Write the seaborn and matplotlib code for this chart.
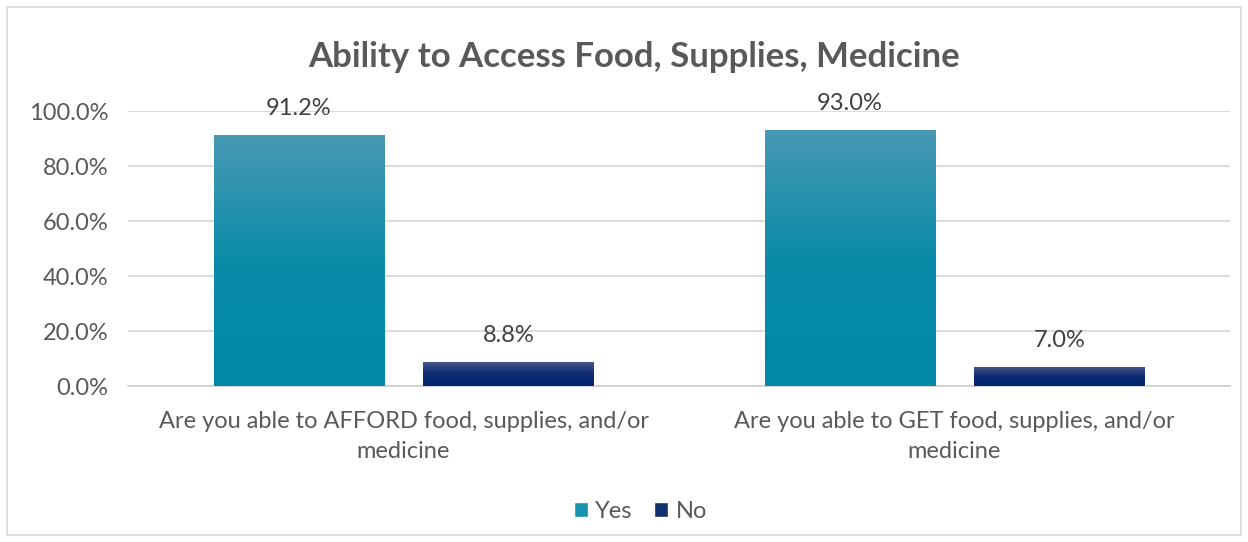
import matplotlib
matplotlib.use("Agg")
import matplotlib.pyplot as plt
import seaborn as sns
import pandas as pd
import numpy as np
from matplotlib.colors import LinearSegmentedColormap
from matplotlib.patches import Rectangle

categories = ["Are you able to AFFORD food, supplies, and/or\nmedicine",
              "Are you able to GET food, supplies, and/or\nmedicine"]
yes_values = [0.912, 0.930]
no_values = [0.088, 0.070]
series = ["Yes", "No"]
title = "Ability to Access Food, Supplies, Medicine"

df = pd.DataFrame({
    "question": categories * 2,
    "answer": ["Yes"] * len(categories) + ["No"] * len(categories),
    "value": yes_values + no_values,
})

sns.set_theme(style="white")
plt.rcParams['font.family'] = ['Lato', 'DejaVu Sans']

fig = plt.figure(figsize=(12.48, 5.42), dpi=100)
ax = fig.add_axes([0.1026, 0.2878, 0.8830, 0.5074])

colors = {"Yes": "#1793b0", "No": "#13306f"}
sns.barplot(data=df, x="question", y="value", hue="answer", hue_order=series,
            palette=colors, width=0.762, gap=0.19, ax=ax, legend=True,
            saturation=1, zorder=3)

ax.set_ylim(0, 1.0)
ax.set_yticks(np.arange(0, 1.01, 0.2))
ax.set_yticklabels([f"{v*100:.1f}%" for v in np.arange(0, 1.01, 0.2)],
                   fontsize=17, color="#595959")
ax.tick_params(axis="y", length=0, pad=14)
ax.tick_params(axis="x", length=0, pad=18, labelsize=17, labelcolor="#595959")
for lab in ax.get_xticklabels():
    lab.set_linespacing(1.55)
ax.set_xlabel("")
ax.set_ylabel("")
ax.grid(axis="y", color="#d9d9d9", linewidth=1.3, zorder=0)
ax.set_axisbelow(True)
for s in ["top", "right", "left"]:
    ax.spines[s].set_visible(False)
ax.spines["bottom"].set_color("#d0d0d0")
ax.spines["bottom"].set_linewidth(1.3)

# gradient overlay on bars
grads = {
    "Yes": LinearSegmentedColormap.from_list("y", ["#0088a6", "#0a8ca9", "#4899b4"]),
    "No": LinearSegmentedColormap.from_list("n", ["#002570", "#0e2c72", "#4a5a8a"]),
}
for container, name in zip(ax.containers, series):
    for bar, val in zip(container, container.datavalues):
        x0, y0 = bar.get_x(), bar.get_y()
        w, h = bar.get_width(), bar.get_height()
        img = np.linspace(0, 1, 256).reshape(-1, 1)
        im = ax.imshow(img, cmap=grads[name], origin="lower", aspect="auto",
                       extent=(x0, x0 + w, y0, y0 + h), zorder=4)
        im.set_clip_path(bar)
        ax.annotate(f"{val*100:.1f}%", (x0 + w / 2, y0 + h), xytext=(0, 19),
                    textcoords="offset points", ha="center", va="center",
                    fontsize=17, color="#404040", annotation_clip=False, zorder=5)
ax.set_xlim(-0.5, 1.5)

leg = ax.legend(loc="center", bbox_to_anchor=(0.465, -0.455), ncol=2, frameon=False,
                fontsize=17, handlelength=0.6, handleheight=0.6, handletextpad=0.3,
                columnspacing=0.9, labelcolor="#595959")

fig.suptitle(title, x=0.508, y=0.925, va="top", fontsize=25, fontweight="bold",
             color="#595959")

fig.patches.append(Rectangle((0.006, 0.012), 0.988, 0.976, transform=fig.transFigure,
                             fill=False, edgecolor="#d9d9d9", linewidth=1.2))

fig.savefig("out.png", dpi=100)
